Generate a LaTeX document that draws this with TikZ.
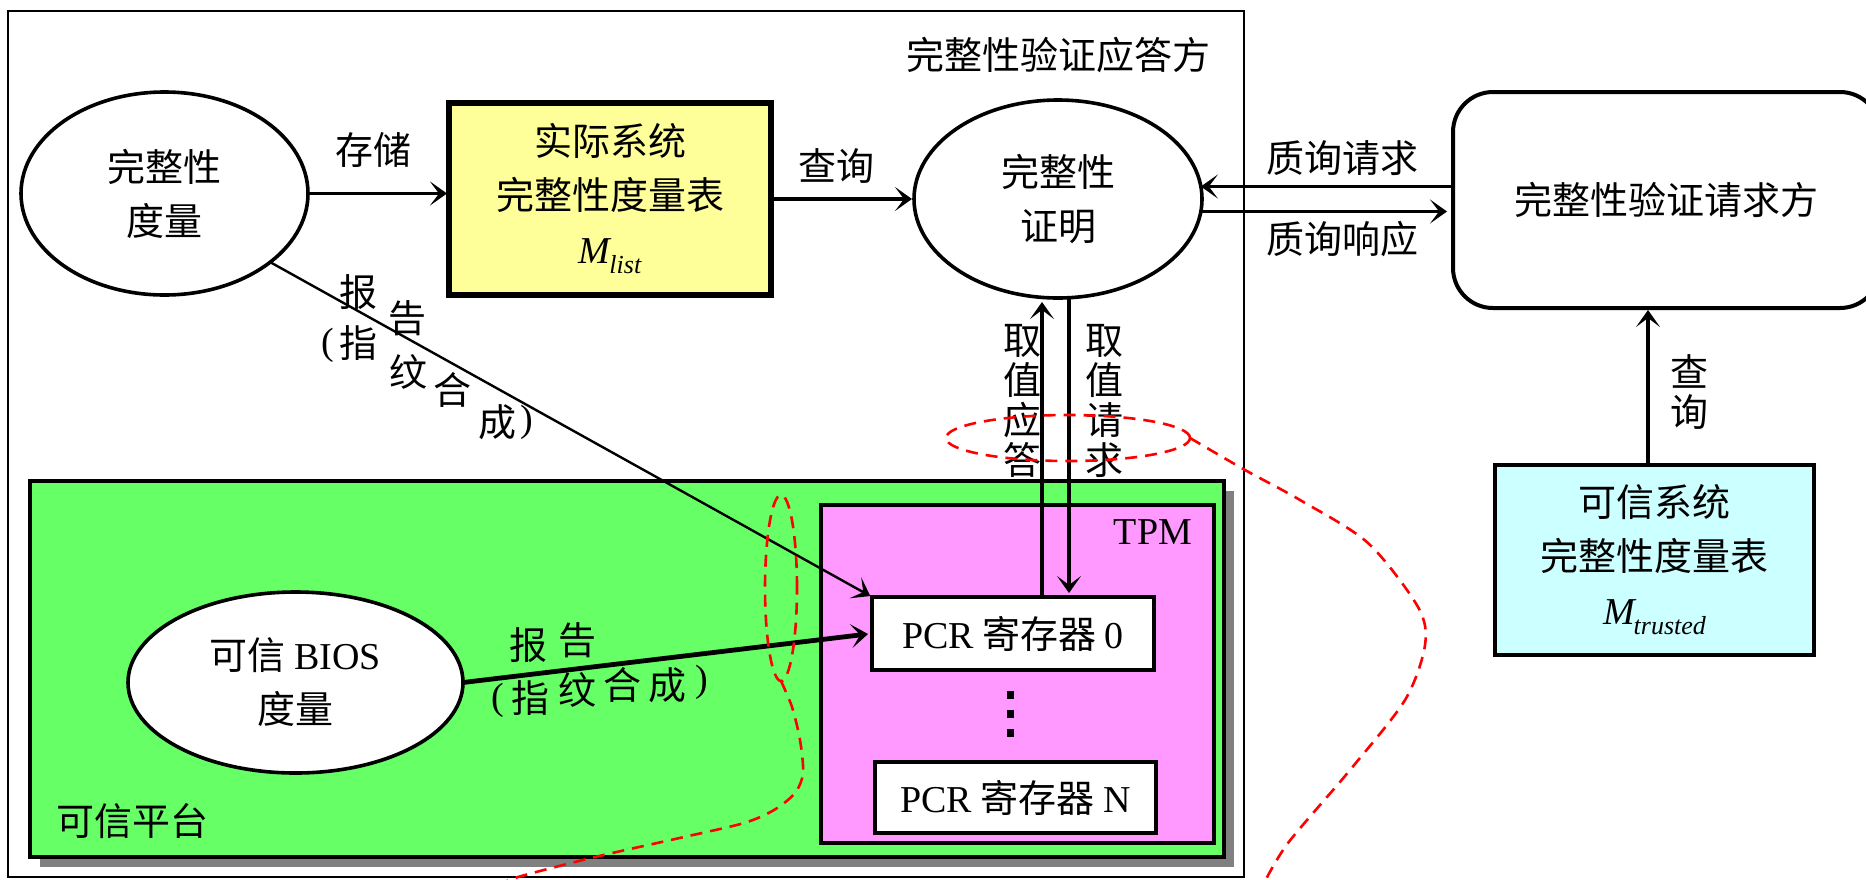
\documentclass[tikz,border=0pt]{standalone}
\usepackage{fontspec}
\setmainfont{Noto Sans CJK SC}
\newfontfamily\tnr{Liberation Serif}
\usetikzlibrary{shapes.geometric,arrows.meta,shadows}
\newcommand\tn[1]{{\tnr #1}}
\newcommand\mlistsym{{\tnr\itshape M\kern-0.5pt\raisebox{-5pt}{\fontsize{13}{13}\selectfont list}}}
\newcommand\mtrustsym{{\tnr\itshape M\kern-0.5pt\raisebox{-5pt}{\fontsize{13}{13}\selectfont trusted}}}
\definecolor{ylw}{HTML}{FFFF99}
\definecolor{grn}{HTML}{66FF66}
\definecolor{pnk}{HTML}{FF99FF}
\definecolor{cyn}{HTML}{CCFFFF}
\definecolor{shd}{HTML}{808080}
\begin{document}
\begin{tikzpicture}[x=0.5pt,y=-0.5pt,
  every node/.style={inner sep=0pt, outer sep=0pt},
  font=\fontsize{19}{27}\selectfont,
  ell/.style={ellipse, draw, line width=1.8pt, align=center},
  boxy/.style={rectangle, draw, align=center},
  arr/.style={-{Stealth[length=8.5pt,width=12pt,inset=4.5pt]}, line width=1.6pt},
  vtext/.style={align=center, font=\fontsize{19}{20}\selectfont},
  reddash/.style={draw=red, line width=1.3pt, dash pattern=on 6pt off 4pt}
]
\useasboundingbox (0,0) rectangle (1866,879);
\fill[white] (0,0) rectangle (1866,879);
\clip (0,0) rectangle (1866,879);

% responder frame
\node[draw, line width=1.3pt, minimum width=618pt, minimum height=433pt] (resp) at (626,444) {};
\node (resplbl) at (1058,55) {完整性验证应答方};

% trusted platform
\node[draw, line width=2.3pt, fill=grn, minimum width=597pt, minimum height=188pt,
      drop shadow={shadow xshift=5pt, shadow yshift=-5pt, fill=shd, opacity=1}] (plat) at (627,669) {};
\node (platl) at (132,821) {可信平台};

% TPM
\node[draw, line width=2pt, fill=pnk, minimum width=196.5pt, minimum height=169pt] (tpm) at (1017.5,674) {};
\node (tpml) at (1153,532) {\tn{TPM}};
\node[boxy, line width=1.8pt, fill=white, minimum width=141pt, minimum height=36.5pt] (pcr0) at (1013,633.5) {\tn{PCR} 寄存器 \tn{0}};
\node[boxy, line width=1.8pt, fill=white, minimum width=140.5pt, minimum height=35.5pt] (pcrN) at (1015.5,797.5) {\tn{PCR} 寄存器 \tn{N}};
\node[fill, minimum width=3.5pt, minimum height=4pt] (dot1) at (1010,695) {};
\node[fill, minimum width=3.5pt, minimum height=4pt] (dot2) at (1010,714) {};
\node[fill, minimum width=3.5pt, minimum height=4pt] (dot3) at (1010,733) {};

% BIOS
\node[ell, fill=white, minimum width=167.5pt, minimum height=90.5pt] (bios) at (295.5,682.5) {可信 \tn{BIOS}\\度量};

% top row
\node[ell, minimum width=143.5pt, minimum height=101.5pt] (meas) at (164.5,193.5) {完整性\\度量};
\node[boxy, line width=2.6pt, fill=ylw, minimum width=161pt, minimum height=96pt] (mlist) at (610,199) {实际系统\\完整性度量表\\\mlistsym};
\node[ell, minimum width=144pt, minimum height=99pt] (proof) at (1058,199) {完整性\\证明};
\node[boxy, line width=2pt, rounded corners=20pt, minimum width=213.5pt, minimum height=108pt] (req) at (1666.5,200) {完整性验证请求方};
\node[boxy, line width=2.4pt, fill=cyn, minimum width=159.5pt, minimum height=95pt] (trust) at (1654.5,560) {可信系统\\完整性度量表\\\mtrustsym};

% connectors
\coordinate (cu) at (1042,0);
\coordinate (cd) at (1069,0);
\coordinate (cq) at (1648,0);
\draw[arr, shorten >=1pt] (meas.east) -- (meas.east -| mlist.west);
\draw[arr, shorten >=1pt] (mlist.east) -- (mlist.east -| proof.west);
\draw[arr] (req.west |- proof.5) -- (proof.5);
\draw[arr, shorten >=3pt] (proof.-5) -- (req.west |- proof.-5);
\draw[arr, shorten >=2pt] (pcr0.north -| cu) -- (proof.south -| cu);
\draw[arr, shorten >=2pt] (proof.south -| cd) -- (pcr0.north -| cd);
\draw[arr, shorten >=1pt] (trust.north -| cq) -- (req.south -| cq);
\draw[arr, line width=1.2pt, shorten >=1pt] (meas.-33) -- (pcr0.north west);
\draw[arr, line width=2.4pt, shorten >=2pt] (bios.east) -- (pcr0.west);

% labels
\node (lstore) at (373,150) {存储};
\node (lq1) at (836,166) {查询};
\node (lqr) at (1342,158) {质询请求};
\node (lqs) at (1342,239) {质询响应};
\node[vtext] (lva) at (1022,401) {取\\值\\应\\答};
\node[vtext] (lvr) at (1104,401) {取\\值\\请\\求};
\node[vtext] (lq2) at (1689,392) {查\\询};

% diagonal label
\node (d1) at (358,292) {报};
\node (d2) at (407,318) {告};
\node (d3) at (328,345) {\tn{(}};
\node (d4) at (358,343) {指};
\node (d5) at (408,372) {纹};
\node (d6) at (452,390) {合};
\node (d7) at (497,422) {成};
\node (d8) at (527,422) {\tn{)}};

% BIOS arrow label
\node (b1) at (528,645) {报};
\node (b2) at (577,640) {告};
\node (b3) at (498,700) {\tn{(}};
\node (b4) at (530,698) {指};
\node (b5) at (577,690) {纹};
\node (b6) at (622,685) {合};
\node (b7) at (667,685) {成};
\node (b8) at (702,682) {\tn{)}};

% red dashed marks
\node[ellipse, reddash, minimum width=122pt, minimum height=23pt] (elA) at (1068,438) {};
\node[ellipse, reddash, minimum width=16pt, minimum height=93pt] (elB) at (781,588) {};
\draw[reddash, smooth] plot coordinates {(elA.east) (1245,470) (1300,500) (1368,543) (1418,607) (1425,645) (1405,700) (1350,770) (1288,843) (1263,885)};
\draw[reddash, smooth] plot coordinates {(elB.south) (792,707) (800,740) (803,773) (795,793) (774,810) (744,823) (684,837) (595,857) (518,877) (500,885)};
\end{tikzpicture}
\end{document}
